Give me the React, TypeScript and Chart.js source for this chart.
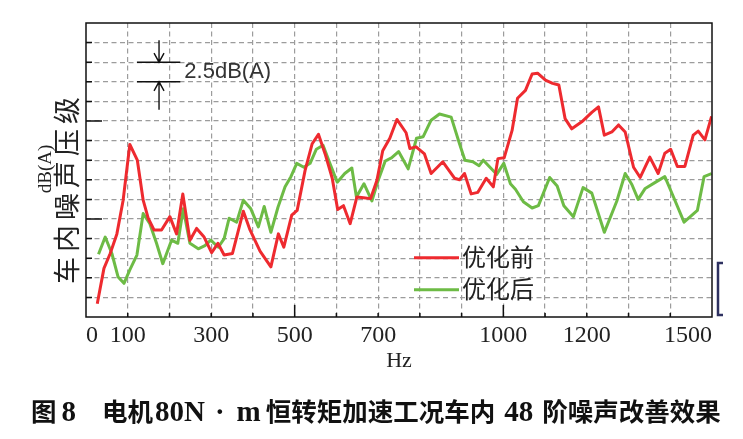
import React, { useEffect, useRef } from 'react';
import Chart from 'chart.js/auto';

// 48th order interior noise, before / after optimisation (relative dB(A))
const redHz = [27, 43, 58, 74, 89, 105, 123, 137, 149, 163, 181, 201, 217, 232, 249, 265, 283, 301, 316, 331, 351, 377, 393, 417, 443, 461, 474, 493, 506, 525, 542, 557, 573, 590, 603, 617, 633, 649, 665, 682, 697, 711, 728, 745, 767, 776, 791, 811, 827, 855, 883, 895, 907, 923, 939, 959, 976, 987, 1002, 1021, 1034, 1053, 1069, 1082, 1101, 1118, 1133, 1148, 1164, 1188, 1212, 1228, 1242, 1260, 1276, 1292, 1312, 1328, 1351, 1371, 1387, 1401, 1417, 1435, 1455, 1467, 1483, 1499];
const redDb = [46.7, 51.2, 53.1, 55.6, 59.9, 67.0, 65.0, 59.9, 57.6, 56.1, 56.1, 57.8, 55.6, 60.7, 54.8, 56.3, 55.2, 53.2, 54.4, 52.9, 53.1, 58.5, 56.1, 53.4, 51.4, 55.6, 53.9, 58.0, 58.6, 63.7, 67.1, 68.3, 65.8, 62.7, 58.7, 59.2, 56.9, 60.3, 60.2, 60.1, 62.4, 66.2, 67.8, 70.2, 68.5, 66.5, 66.7, 65.8, 63.3, 64.8, 62.7, 62.5, 63.3, 60.7, 60.9, 62.7, 61.6, 65.2, 65.3, 68.8, 72.9, 73.9, 76.0, 76.1, 75.2, 74.8, 74.6, 70.3, 69.0, 69.9, 71.1, 71.8, 68.2, 68.6, 69.5, 68.6, 64.1, 62.8, 65.4, 63.3, 65.9, 66.4, 64.2, 64.2, 68.2, 68.7, 67.6, 70.6];

const greenHz = [30, 46, 62, 77, 91, 105, 122, 137, 153, 169, 184, 205, 220, 233, 249, 269, 285, 299, 317, 331, 343, 361, 377, 395, 413, 427, 443, 460, 477, 491, 505, 522, 537, 552, 568, 585, 602, 620, 637, 648, 666, 685, 700, 717, 732, 749, 772, 792, 808, 827, 847, 875, 895, 908, 927, 942, 952, 984, 1001, 1017, 1029, 1048, 1069, 1084, 1111, 1129, 1145, 1168, 1191, 1212, 1242, 1272, 1292, 1308, 1323, 1340, 1368, 1387, 1407, 1433, 1465, 1481, 1499];
const greenDb = [53.0, 55.2, 53.1, 50.1, 49.3, 51.0, 52.9, 58.2, 56.9, 54.4, 51.8, 54.8, 54.4, 58.8, 54.4, 53.7, 54.1, 54.8, 53.9, 55.0, 57.6, 57.1, 59.9, 58.8, 56.5, 59.1, 55.8, 59.0, 61.6, 62.9, 64.6, 64.1, 64.6, 66.4, 66.9, 64.5, 62.2, 63.3, 64.0, 60.3, 62.0, 59.8, 62.4, 64.9, 65.3, 66.1, 63.9, 67.8, 68.0, 70.1, 70.9, 70.5, 67.1, 65.0, 64.8, 64.3, 65.0, 63.2, 64.6, 62.0, 61.3, 59.7, 58.9, 59.2, 62.8, 61.7, 59.2, 57.8, 61.5, 60.8, 55.8, 59.8, 63.3, 61.9, 60.0, 61.4, 62.3, 62.9, 60.4, 57.1, 58.6, 62.9, 63.3];

const seriesNames = ['优化前', '优化后'];
const xTickLabels = [0, 100, 300, 500, 700, 1000, 1200, 1500];
const xTitle = 'Hz';
const yTitle = ['dB(A)', '车内噪声压级'];
const scaleNote = '2.5dB(A)';
const captionParts = ['图', '8', '电机', '80N', '·', 'm', '恒转矩加速工况车内', '48', '阶噪声改善效果'];

const X_MIN = 0;
const X_MAX = 1500;
const Y_MIN = 45;
const Y_MAX = 82.5;
const Y_STEP = 2.5;

const SERIF = "'Liberation Serif', 'Times New Roman', serif";
const CJK = "'Noto Sans CJK SC', 'Noto Sans', sans-serif";

const toPoints = (xs: number[], ys: number[]) => xs.map((x, i) => ({ x, y: ys[i] }));

const overlay = {
  id: 'overlay',
  afterDraw(chart: any) {
    const { ctx, chartArea: a, scales } = chart;
    const xs = scales.x;
    const ys = scales.y;
    ctx.save();
    ctx.setLineDash([]);

    // frame
    ctx.strokeStyle = '#111';
    ctx.lineWidth = 1.5;
    ctx.strokeRect(a.left, a.top, a.right - a.left, a.bottom - a.top);

    // inward tick marks
    ctx.beginPath();
    xs.ticks.forEach((t: any) => {
      if (t.value <= X_MIN || t.value >= X_MAX) return;
      const px = xs.getPixelForValue(t.value);
      const len = t.value % 500 === 0 ? 12 : 4;
      ctx.moveTo(px, a.bottom);
      ctx.lineTo(px, a.bottom - len);
    });
    ys.ticks.forEach((t: any) => {
      if (t.value <= Y_MIN || t.value >= Y_MAX) return;
      const py = ys.getPixelForValue(t.value);
      const k = (t.value - Y_MIN) / 12.5;
      const len = Math.abs(k - Math.round(k)) < 1e-6 ? 16 : 6;
      ctx.moveTo(a.left, py);
      ctx.lineTo(a.left + len, py);
    });
    ctx.stroke();

    // 2.5 dB(A) scale note
    const yA = ys.getPixelForValue(77.5);
    const yB = ys.getPixelForValue(75);
    const xl = xs.getPixelForValue(122);
    const xr = xs.getPixelForValue(226);
    const xm = xs.getPixelForValue(175);
    ctx.lineWidth = 1.4;
    ctx.beginPath();
    ctx.moveTo(xl, yA); ctx.lineTo(xr, yA);
    ctx.moveTo(xl, yB); ctx.lineTo(xr, yB);
    ctx.moveTo(xm, yA - 22); ctx.lineTo(xm, yA);
    ctx.moveTo(xm - 5, yA - 9); ctx.lineTo(xm, yA); ctx.lineTo(xm + 5, yA - 9);
    ctx.moveTo(xm, yB + 28); ctx.lineTo(xm, yB);
    ctx.moveTo(xm - 5, yB + 9); ctx.lineTo(xm, yB); ctx.lineTo(xm + 5, yB + 9);
    ctx.stroke();
    ctx.fillStyle = '#333';
    ctx.font = "22px 'Liberation Sans', Arial, sans-serif";
    ctx.textAlign = 'left';
    ctx.textBaseline = 'middle';
    ctx.fillText(scaleNote, xr + 4, (yA + yB) / 2);

    // legend inside plot
    chart.data.datasets.forEach((ds: any, i: number) => {
      const ly = 257.7 + i * 32;
      ctx.strokeStyle = ds.borderColor;
      ctx.lineWidth = 3;
      ctx.beginPath();
      ctx.moveTo(414, ly);
      ctx.lineTo(459, ly);
      ctx.stroke();
      ctx.fillStyle = '#222';
      ctx.font = `24px ${CJK}`;
      ctx.textBaseline = 'middle';
      ctx.fillText(ds.label, 462, ly - 1);
    });

    // y axis title, two rotated lines
    ctx.fillStyle = '#222';
    ctx.save();
    ctx.translate(46, 169);
    ctx.rotate(-Math.PI / 2);
    ctx.font = `19px ${SERIF}`;
    ctx.textAlign = 'center';
    ctx.textBaseline = 'middle';
    ctx.fillText(yTitle[0], 0, 0);
    ctx.restore();
    ctx.save();
    ctx.translate(67, 190.5);
    ctx.rotate(-Math.PI / 2);
    ctx.font = `27px ${CJK}`;
    ctx.textAlign = 'center';
    ctx.textBaseline = 'middle';
    const chars = Array.from(yTitle[1]);
    chars.forEach((c, i) => {
      ctx.fillText(c, (i - (chars.length - 1) / 2) * 32, 0);
    });
    ctx.restore();

    // cropped bracket at the right edge
    ctx.strokeStyle = '#2e3160';
    ctx.lineWidth = 2.5;
    ctx.beginPath();
    ctx.moveTo(723, 263);
    ctx.lineTo(718, 263);
    ctx.lineTo(718, 315);
    ctx.lineTo(723, 315);
    ctx.stroke();

    // caption
    const latin = `bold 29px ${SERIF}`;
    const cjk = `bold 25.5px ${CJK}`;
    const gaps = [0, 5, 26, 2, 10, 12, 5, 9, 9];
    let cx = 31;
    ctx.fillStyle = '#111';
    ctx.textAlign = 'left';
    ctx.textBaseline = 'alphabetic';
    captionParts.forEach((p, i) => {
      ctx.font = /[\u4e00-\u9fff]/.test(p) ? cjk : latin;
      cx += gaps[i];
      ctx.fillText(p, cx, 421);
      cx += ctx.measureText(p).width;
    });

    ctx.restore();
  },
};

const App = () => {
  const chartRef = useRef<HTMLCanvasElement>(null);

  useEffect(() => {
    if (!chartRef.current) return;
    const edgeX = (c: any) => (c.tick && (c.tick.value <= X_MIN || c.tick.value >= X_MAX) ? 'rgba(0,0,0,0)' : '#9c9c9c');
    const edgeY = (c: any) => (c.tick && (c.tick.value <= Y_MIN || c.tick.value >= Y_MAX) ? 'rgba(0,0,0,0)' : '#9c9c9c');
    const chart = new Chart(chartRef.current, {
      type: 'line',
      data: {
        datasets: [
          { label: seriesNames[0], data: toPoints(redHz, redDb), borderColor: '#ee2a2f', borderWidth: 3, pointRadius: 0, tension: 0 },
          { label: seriesNames[1], data: toPoints(greenHz, greenDb), borderColor: '#6dbb45', borderWidth: 3, pointRadius: 0, tension: 0 },
        ],
      },
      options: {
        responsive: true,
        maintainAspectRatio: false,
        animation: false,
        layout: { padding: { left: 0, top: 23, right: 31, bottom: 65 } },
        plugins: { legend: { display: false }, tooltip: { enabled: false } },
        elements: { line: { borderJoinStyle: 'round' } },
        scales: {
          x: {
            type: 'linear',
            min: X_MIN,
            max: X_MAX,
            afterFit: (s: any) => { s.height = 57; },
            ticks: {
              stepSize: 100,
              autoSkip: false,
              maxRotation: 0,
              align: 'inner',
              padding: 4,
              color: '#222',
              font: { family: SERIF, size: 24 },
              callback: (v: any) => (xTickLabels.includes(Number(v)) ? String(v) : ''),
            },
            grid: { color: edgeX, lineWidth: 1.2, drawTicks: false },
            border: { display: false, dash: [5, 3.5] },
            title: { display: true, text: xTitle, color: '#222', font: { family: SERIF, size: 22 }, padding: { top: 0, bottom: 0 } },
          },
          y: {
            type: 'linear',
            min: Y_MIN,
            max: Y_MAX,
            afterFit: (s: any) => { s.width = 86; },
            ticks: { stepSize: Y_STEP, display: false },
            grid: { color: edgeY, lineWidth: 1.2, drawTicks: false },
            border: { display: false, dash: [5, 3.5] },
          },
        },
      },
      plugins: [overlay],
    } as any);
    return () => {
      chart.destroy();
    };
  }, []);

  return (
    <div style={{ position: 'absolute', left: 0, top: 0, width: 743, height: 439, background: '#fff' }}>
      <canvas ref={chartRef} />
    </div>
  );
};

export default App;
